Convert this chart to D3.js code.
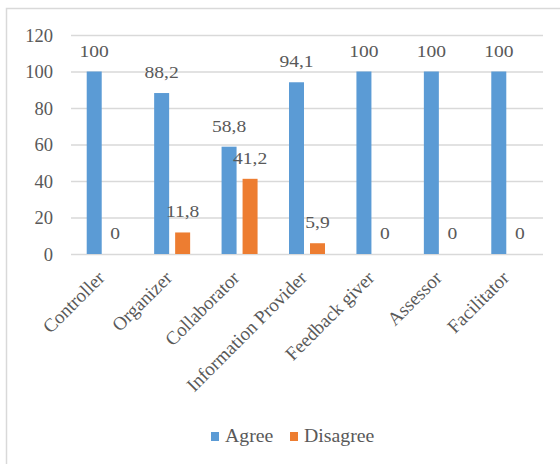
<!DOCTYPE html>
<html>
<head>
<meta charset="utf-8">
<script src="https://cdn.jsdelivr.net/npm/d3@7"></script>
<style>
  html, body { margin: 0; padding: 0; background: #fff; }
  svg { display: block; }
</style>
</head>
<body>
<svg id="chart" width="560" height="464"></svg>
<script>
// Survey results: share of respondents (%) per teacher role
const categories = ["Controller", "Organizer", "Collaborator", "Information Provider", "Feedback giver", "Assessor", "Facilitator"];
const series = ["Agree", "Disagree"];
const agree = [100, 88.2, 58.8, 94.1, 100, 100, 100];
const disagree = [0, 11.8, 41.2, 5.9, 0, 0, 0];
const yTicks = [0, 20, 40, 60, 80, 100, 120];
const colors = ["#5B9BD5", "#ED7D31"];

const fontFamily = '"Liberation Serif"';

const svg = d3.select("#chart");

// Outer chart frame (right and bottom edges fall outside the view)
svg.append("rect")
  .attr("x", 6.5).attr("y", 8.5)
  .attr("width", 600).attr("height", 500)
  .attr("fill", "none")
  .attr("stroke", "#d9d9d9")
  .attr("stroke-width", 1.5);

const plot = { left: 71, right: 543, top: 35, bottom: 254 };

const x0 = d3.scaleBand().domain(categories).range([plot.left, plot.right]).padding(0);
const groupW = 36;
const x1 = d3.scaleBand().domain(series)
  .range([-groupW / 2, groupW / 2])
  .paddingInner(2 - groupW / 21).paddingOuter(0);
const y = d3.scaleLinear().domain([0, 120]).range([plot.bottom, plot.top]);

// Text helper: text placed at (px, py), optionally widened and rotated
function addText(parent, px, py, str, opts = {}) {
  const sx = opts.stretch || 1;
  const g = parent.append("g")
    .attr("transform", `translate(${px},${py}) scale(${sx},1)`);
  const t = g.append("text")
    .style("font-family", fontFamily)
    .style("font-size", (opts.size || 17) + "px")
    .attr("fill", "#595959")
    .attr("text-anchor", opts.anchor || "middle")
    .text(str);
  if (opts.rotate) t.attr("transform", `rotate(${opts.rotate})`);
  return t;
}

// Gridlines
const yAxis = d3.axisLeft(y).tickValues(yTicks)
  .tickSize(-(plot.right - plot.left)).tickFormat("");
const gy = svg.append("g")
  .attr("transform", `translate(${plot.left},0)`)
  .call(yAxis);
gy.select(".domain").remove();
gy.selectAll(".tick line").attr("stroke", "#d9d9d9").attr("stroke-width", 1.3);

// Y tick labels
yTicks.forEach(v => {
  addText(svg, 53, y(v) + 6.5, String(v), { anchor: "end", size: 18, stretch: 1.03 });
});

// Bars
const rows = categories.map((c, i) => ({ cat: c, vals: [agree[i], disagree[i]] }));
const groups = svg.append("g").selectAll("g")
  .data(rows).join("g")
  .attr("transform", d => `translate(${x0(d.cat) + x0.bandwidth() / 2},0)`);

groups.selectAll("rect")
  .data(d => d.vals.map((v, k) => ({ key: series[k], v, k })))
  .join("rect")
  .attr("x", d => x1(d.key))
  .attr("width", x1.bandwidth())
  .attr("y", d => y(d.v))
  .attr("height", d => y(0) - y(d.v))
  .attr("fill", d => colors[d.k]);

// Value labels above each bar
rows.forEach(r => {
  const cx = x0(r.cat) + x0.bandwidth() / 2;
  r.vals.forEach((v, k) => {
    const bx = cx + x1(series[k]) + x1.bandwidth() / 2;
    addText(svg, bx, y(v) - 15, String(v).replace(".", ","), { size: 17, stretch: 1.15 });
  });
});

// Category labels, rotated
categories.forEach(c => {
  const cx = x0(c) + x0.bandwidth() / 2;
  addText(svg, cx + 1, 279, c, { anchor: "end", rotate: -45, size: 19 });
});

// Legend
const legend = [
  { name: "Agree", sx: 211, tx: 225 },
  { name: "Disagree", sx: 290, tx: 304 }
];
legend.forEach((d, k) => {
  svg.append("rect")
    .attr("x", d.sx).attr("y", 432)
    .attr("width", 8).attr("height", 9)
    .attr("fill", colors[k]);
  addText(svg, d.tx, 442, d.name, { anchor: "start", size: 18, stretch: 1.1 });
});
</script>
</body>
</html>
